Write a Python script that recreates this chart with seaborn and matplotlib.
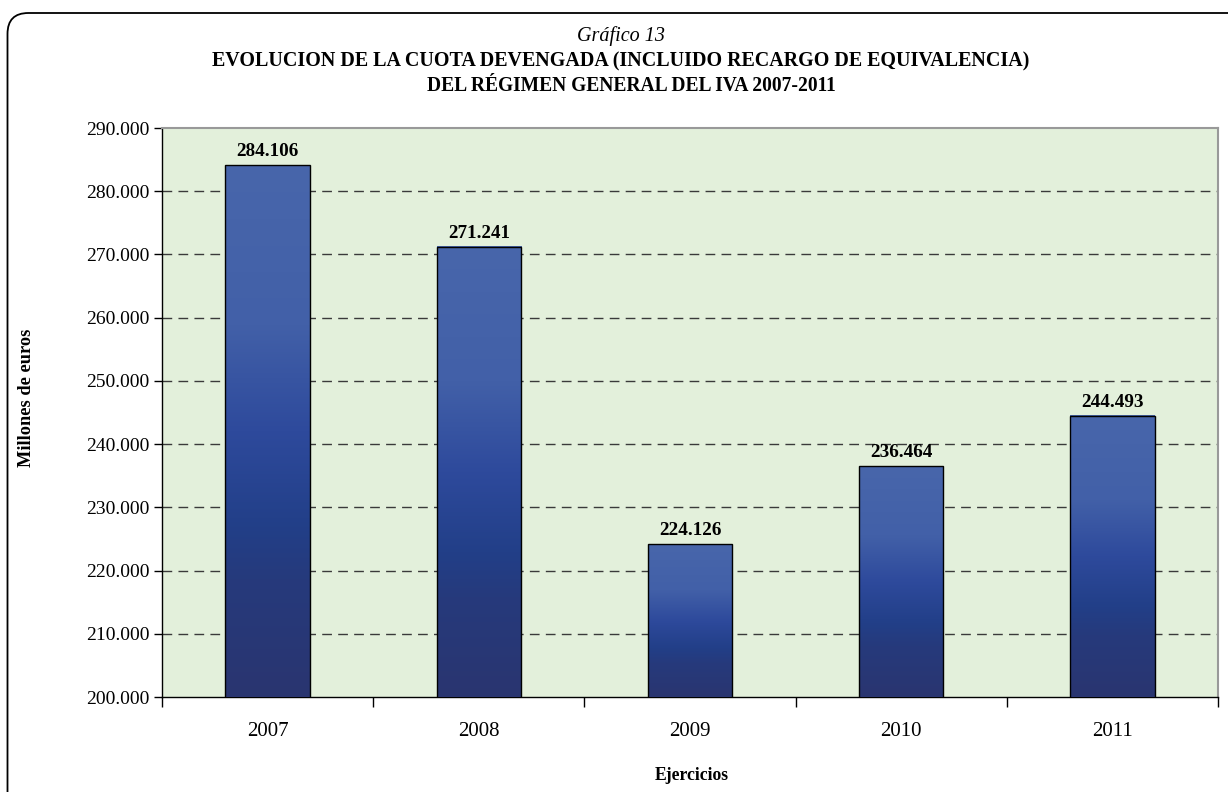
import matplotlib
matplotlib.use("Agg")
import matplotlib.pyplot as plt
import seaborn as sns
import numpy as np
import pandas as pd
from matplotlib.colors import LinearSegmentedColormap
from matplotlib.patches import FancyBboxPatch
from matplotlib.ticker import FuncFormatter, MultipleLocator

years = ["2007", "2008", "2009", "2010", "2011"]
values = [284106, 271241, 224126, 236464, 244493]
labels = ["284.106", "271.241", "224.126", "236.464", "244.493"]

sns.set_theme(style="white")
plt.rcParams["font.family"] = ["Liberation Serif", "DejaVu Serif"]
plt.rcParams["text.color"] = "black"
plt.rcParams["axes.labelcolor"] = "black"
plt.rcParams["xtick.color"] = "black"
plt.rcParams["ytick.color"] = "black"

W, H = 1228, 792
fig = plt.figure(figsize=(W / 100, H / 100), dpi=100)
ax = fig.add_axes([162/W, (H - 697)/H, (1218-162)/W, (697-128)/H])

df = pd.DataFrame({"year": years, "value": values})
sns.barplot(data=df, x="year", y="value", ax=ax, width=0.4, color="#4865aa",
            edgecolor="black", linewidth=1.0, zorder=3)

ymin, ymax = 200000, 290000
ax.set_facecolor("#e3f0db")

cmap = LinearSegmentedColormap.from_list("bars", [
    (0.0, "#2a3570"), (0.22, "#263a7c"), (0.32, "#223f88"),
    (0.5, "#2e4a9c"), (0.7, "#4260a8"), (1.0, "#4866ab")])
grad = np.linspace(0, 1, 256).reshape(-1, 1)
for p in list(ax.patches):
    x0, w = p.get_x(), p.get_width()
    top = p.get_y() + p.get_height()
    ax.imshow(grad, cmap=cmap, origin="lower", aspect="auto",
              extent=[x0, x0 + w, ymin, top], zorder=3.5)
    p.set_facecolor("none")
    p.set_zorder(4)
ax.set_xlim(-0.5, 4.5)
ax.set_ylim(ymin, ymax)

bar_texts = []
for i, (v, lab) in enumerate(zip(values, labels)):
    t = ax.annotate(lab, (i, v), xytext=(0, 6.5), textcoords="offset points",
                    ha="center", va="baseline", fontsize=13.6,
                    fontweight="bold", color="black", zorder=5)
    bar_texts.append(t)

ax.yaxis.set_major_locator(MultipleLocator(10000))
ax.yaxis.set_major_formatter(FuncFormatter(lambda v, p: f"{int(v):,}".replace(",", ".")))
for y in range(210000, 290000, 10000):
    ax.axhline(y, color="#3a3a3a", lw=1.0, ls=(0, (7, 4.5)), zorder=2)

ax.set_xticks(np.arange(-0.5, 5.0, 1.0), minor=False)
ax.set_xticklabels([])
ax.set_xticks(range(5), minor=True)
ax.set_xticklabels(years, minor=True)
ax.tick_params(axis="x", which="major", direction="out", length=7, width=1, color="black", bottom=True)
ax.tick_params(axis="x", which="minor", length=0, labelsize=15, pad=18, colors="black")
ax.tick_params(axis="y", direction="out", length=6, width=1, color="black", labelsize=14, pad=3,
               left=True, colors="black")
ax.set_xlabel("")
ax.set_ylabel("")

for s in ["left", "bottom"]:
    ax.spines[s].set_color("black")
    ax.spines[s].set_linewidth(1.0)
for s in ["top", "right"]:
    ax.spines[s].set_color("#999999")
    ax.spines[s].set_linewidth(1.5)

def fx(px):
    return px / W

def fy(py):
    return 1 - py / H

t_graf = fig.text(fx(621), fy(36), "Gráfico 13", ha="center", va="center", fontsize=14, style="italic")
t_l1 = fig.text(fx(621), fy(61), "EVOLUCION DE LA CUOTA DEVENGADA (INCLUIDO RECARGO DE EQUIVALENCIA)",
                ha="center", va="center", fontsize=14, fontweight="bold")
t_l2 = fig.text(fx(631), fy(86), "DEL RÉGIMEN GENERAL DEL IVA 2007-2011",
                ha="center", va="center", fontsize=14, fontweight="bold")
t_xl = fig.text(fx(692), fy(776), "Ejercicios", ha="center", va="center", fontsize=13, fontweight="bold")
t_yl = fig.text(fx(27), fy(398), "Millones de euros", ha="center", va="center", rotation=90,
                fontsize=13, fontweight="bold")

# scale font sizes so text widths match the reference
fig.canvas.draw()
r = fig.canvas.get_renderer()

def fit(t, target, vertical=False):
    bb = t.get_window_extent(r)
    cur = bb.height if vertical else bb.width
    t.set_fontsize(t.get_fontsize() * target / cur)

fit(t_graf, 88)
fit(t_l1, 817)
fit(t_l2, 411)
fit(t_xl, 74)
fit(t_yl, 137, vertical=True)
for t in bar_texts:
    fit(t, 62)

border = FancyBboxPatch((7.5/W, -0.1), 1.2, 1.1 - 13/H,
                        boxstyle="round,pad=0,rounding_size=0.017",
                        transform=fig.transFigure, fill=False, edgecolor="black",
                        linewidth=1.3, mutation_aspect=W/H)
fig.patches.append(border)

fig.savefig("out.png", dpi=100)
